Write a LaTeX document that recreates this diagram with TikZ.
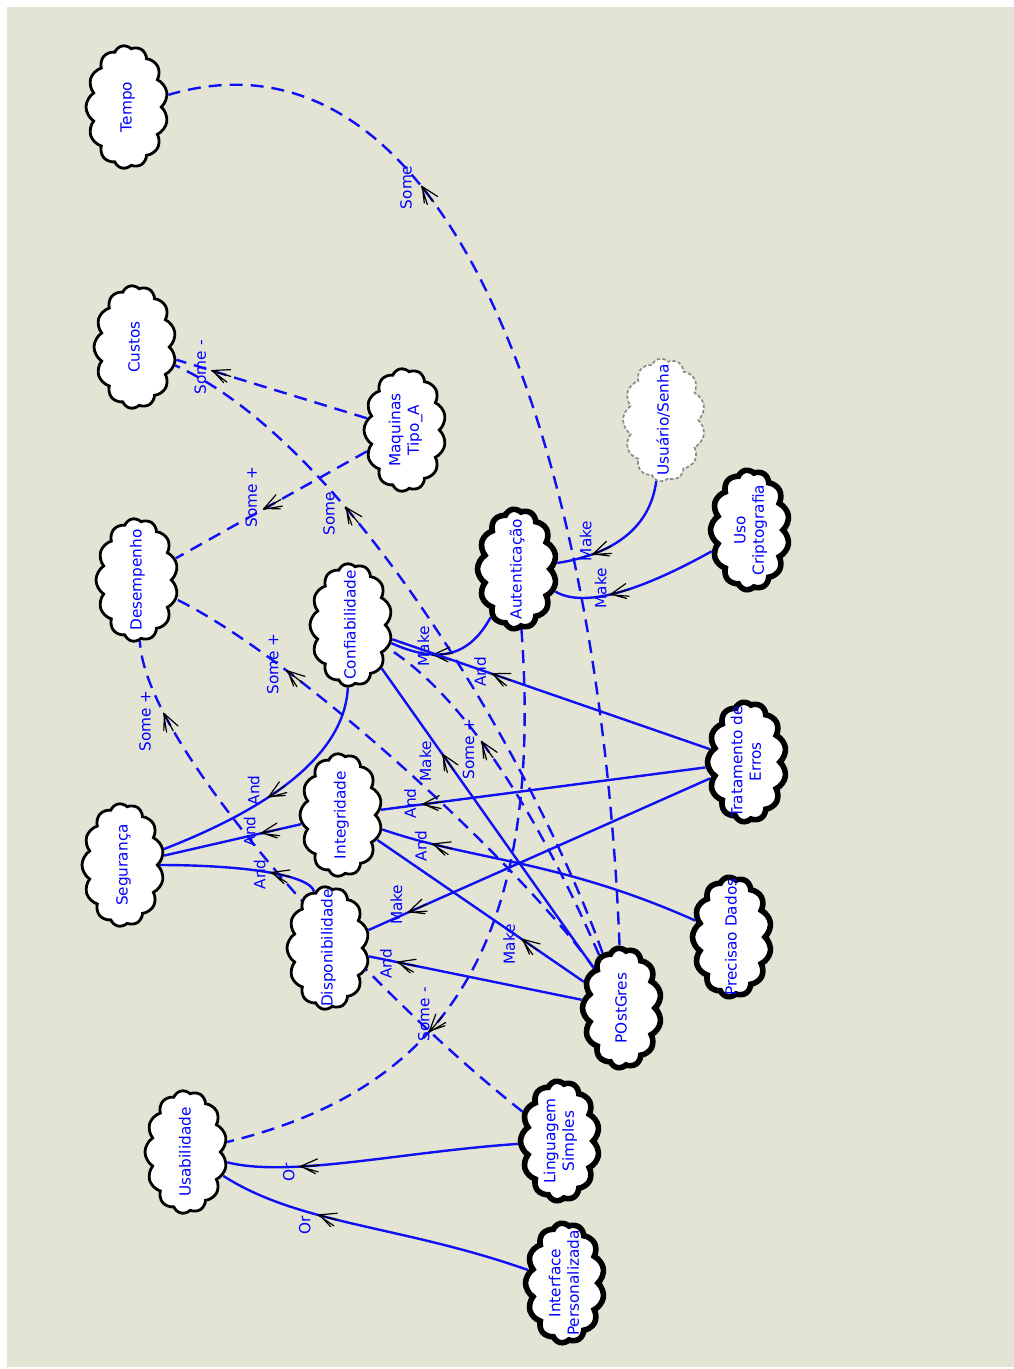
\documentclass[tikz,border=0pt]{standalone}
\usepackage{fontspec}
\setmainfont{DejaVu Sans}
\usetikzlibrary{shapes.symbols}
\definecolor{paper}{RGB}{228,228,213}
\definecolor{linkblue}{RGB}{16,16,245}
% text set inside a cloud without widening it
\newcommand\goaltext[1]{\makebox[0pt]{\raisebox{-0.3em}[0pt][0pt]{\begin{tabular}{@{}c@{}}#1\end{tabular}}}}
\pgfdeclarelayer{paperlayer}
\pgfdeclarelayer{linklayer}
\pgfsetlayers{paperlayer,linklayer,main}

\begin{document}
\begin{tikzpicture}[x=1pt,y=-1pt,
  every node/.style={font=\fontsize{15.3}{18.5}\selectfont},
  softgoal/.style={cloud, cloud puffs=13, cloud puff arc=115, cloud ignores aspect,
    draw=black, fill=white, line width=2.8pt, minimum width=123pt, minimum height=82pt,
    inner sep=0pt, rotate=90, text=blue},
  opgoal/.style={softgoal, line width=5.6pt, minimum width=120pt, minimum height=79pt},
  tentative/.style={softgoal, draw=black!45, line width=1.7pt, dash pattern=on 3.5pt off 2pt},
  link/.style={draw=linkblue, line width=2.4pt},
  weaklink/.style={link, dash pattern=on 13pt off 8pt},
  lbl/.style={text=blue, rotate=90, inner sep=0pt},
  tipat/.style={pos=#1, sloped, allow upside down},
  tipm/.pic={
    \draw[black, solid, line width=1.2pt, line cap=round, line join=round]
      (-9pt,6.5pt) -- (9pt,0pt) -- (-9pt,-6.5pt)
      (-6pt,8pt) -- (4pt,2pt)
      (-11pt,0pt) -- (9pt,0pt);
  }
]
\useasboundingbox (0,0) rectangle (1014,1369);
\begin{pgfonlayer}{paperlayer}
  \fill[white] (0,0) rectangle (1014,1369);
  \fill[paper] (7,7) rectangle (1014,1367);
\end{pgfonlayer}

% softgoals
\node[softgoal] (tempo)  at (127,107)  {\goaltext{Tempo}};
\node[softgoal] (custos) at (135,347)  {\goaltext{Custos}};
\node[softgoal] (desemp) at (137,580)  {\goaltext{Desempenho}};
\node[softgoal] (segur)  at (123,865)  {\goaltext{Segurança}};
\node[softgoal] (usab)   at (186,1152) {\goaltext{Usabilidade}};
\node[softgoal] (maq)    at (405,430)  {\goaltext{Maquinas\\Tipo\_A}};
\node[softgoal] (conf)   at (351,625)  {\goaltext{Confiabilidade}};
\node[softgoal] (integ)  at (341,815)  {\goaltext{Integridade}};
\node[softgoal] (dispo)  at (328,948)  {\goaltext{Disponibilidade}};
% operationalizations
\node[opgoal]    (auten)    at (517,569)  {\goaltext{Autenticação}};
\node[tentative] (usuario)  at (664,420)  {\goaltext{Usuário/Senha}};
\node[opgoal]    (cripto)   at (750,530)  {\goaltext{Uso\\Criptografia}};
\node[opgoal]    (trat)     at (747,762)  {\goaltext{Tratamento de\\Erros}};
\node[opgoal]    (precisao) at (732,937)  {\goaltext{Precisao Dados}};
\node[opgoal]    (postgres) at (622,1008) {\goaltext{POstGres}};
\node[opgoal]    (ling)     at (560,1141) {\goaltext{Linguagem\\Simples}};
\node[opgoal]    (interf)   at (565,1283) {\goaltext{Interface\\Personalizada}};

\begin{pgfonlayer}{linklayer}
% contributions (dashed)
\draw[weaklink] (postgres) .. controls (600,450) and (450,12) .. (tempo)
  pic[tipat=.63]{tipm} node[pos=.63, xshift=-21pt, yshift=6pt, lbl]{Some};
\draw[weaklink] (maq) -- (custos)
  pic[tipat=.77]{tipm} node[pos=.77, xshift=-20pt, yshift=6pt, lbl]{Some -};
\draw[weaklink] (maq) -- (desemp)
  pic[tipat=.5]{tipm} node[pos=.5, xshift=-20pt, yshift=8pt, lbl]{Some +};
\draw[weaklink] (postgres) .. controls (545,790) and (360,450) .. (custos)
  pic[tipat=.675]{tipm} node[pos=.675, xshift=-22pt, lbl]{Some};
\draw[weaklink] (postgres) .. controls (525,870) and (300,660) .. (desemp)
  pic[tipat=.73]{tipm} node[pos=.73, xshift=-21pt, yshift=12pt, lbl]{Some +};
\draw[weaklink] (ling) .. controls (380,1000) and (145,750) .. (desemp)
  pic[tipat=.8]{tipm} node[pos=.8, xshift=-23pt, lbl]{Some +};
\draw[weaklink] (auten) .. controls (545,950) and (440,1090) .. (usab)
  pic[tipat=.585]{tipm} node[pos=.56, xshift=-20pt, lbl]{Some -};
\draw[weaklink] (postgres) .. controls (545,830) and (470,700) .. (conf)
  pic[tipat=.58]{tipm} node[pos=.58, xshift=-18pt, lbl]{Some +};
% contributions (solid)
\draw[link] (usuario) .. controls (650,530) and (610,555) .. (auten)
  pic[tipat=.7]{tipm} node[pos=.7, xshift=-15pt, yshift=10pt, lbl]{Make};
\draw[link] (cripto) .. controls (660,580) and (590,612) .. (auten)
  pic[tipat=.55]{tipm} node[pos=.55, xshift=-18pt, yshift=4pt, lbl]{Make};
\draw[link] (auten) .. controls (470,655) and (440,665) .. (conf)
  pic[tipat=.6]{tipm} node[pos=.6, xshift=-18pt, yshift=8pt, lbl]{Make};
\draw[link] (trat) -- (conf)
  pic[tipat=.66]{tipm} node[pos=.66, xshift=-20pt, yshift=5pt, lbl]{And};
\draw[link] (postgres) -- (conf)
  pic[tipat=.69]{tipm} node[pos=.69, xshift=-22pt, lbl]{Make};
\draw[link] (conf) .. controls (345,745) and (290,800) .. (segur)
  pic[tipat=.63]{tipm} node[pos=.63, xshift=-22pt, yshift=2pt, lbl]{And};
\draw[link] (integ) -- (segur)
  pic[tipat=.23]{tipm} node[pos=.23, xshift=-20pt, lbl]{And};
\draw[link] (dispo) .. controls (310,875) and (245,865) .. (segur)
  pic[tipat=.42]{tipm} node[pos=.42, xshift=-20pt, lbl]{And};
\draw[link] (trat) -- (integ)
  pic[tipat=.845]{tipm} node[pos=.845, xshift=-21pt, lbl]{And};
\draw[link] (precisao) .. controls (560,860) and (470,860) .. (integ)
  pic[tipat=.78]{tipm} node[pos=.78, xshift=-20pt, lbl]{And};
\draw[link] (trat) -- (dispo)
  pic[tipat=.86]{tipm} node[pos=.86, xshift=-20pt, yshift=4pt, lbl]{Make};
\draw[link] (postgres) -- (integ)
  pic[tipat=.265]{tipm} node[pos=.265, xshift=-20pt, lbl]{Make};
\draw[link] (postgres) -- (dispo)
  pic[tipat=.826]{tipm} node[pos=.826, xshift=-20pt, lbl]{And};
\draw[link] (ling) .. controls (400,1152) and (290,1178) .. (usab)
  pic[tipat=.65]{tipm} node[pos=.65, xshift=-20pt, yshift=-6pt, lbl]{Or};
\draw[link] (interf) .. controls (400,1225) and (300,1225) .. (usab)
  pic[tipat=.6]{tipm} node[pos=.6, xshift=-22pt, yshift=-8pt, lbl]{Or};
\end{pgfonlayer}
\end{tikzpicture}
\end{document}
